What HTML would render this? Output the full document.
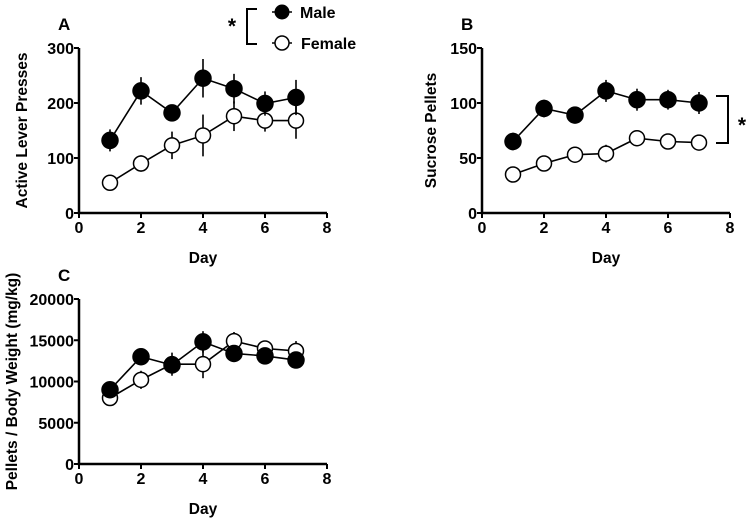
<!DOCTYPE html>
<html><head><meta charset="utf-8"><style>
html,body{margin:0;padding:0;background:#fff}
svg{display:block}
text{font-family:"Liberation Sans",Arial,sans-serif;font-weight:bold;fill:#000}
</style></head><body>
<svg id="chart" width="750" height="518" viewBox="0 0 750 518">
<g>
<text x="232" y="33" font-size="21" text-anchor="middle">*</text>
<path d="M257,9H247V44H257" fill="none" stroke="#000" stroke-width="2"/>
<line x1="272" y1="12" x2="292" y2="12" stroke="#000" stroke-width="1.5"/>
<circle cx="282" cy="12" r="7.5" fill="#000"/>
<text x="300" y="18" font-size="16">Male</text>
<line x1="272" y1="43" x2="292" y2="43" stroke="#000" stroke-width="1.5"/>
<circle cx="282" cy="43" r="7" fill="#fff" stroke="#000" stroke-width="1.5"/>
<text x="301" y="49" font-size="16">Female</text>
</g>
<g>
<path d="M716,96H728V143H716" fill="none" stroke="#000" stroke-width="2"/>
<text x="742" y="132" font-size="21" text-anchor="middle">*</text>
</g>
</svg>
<script>
const days = [1,2,3,4,5,6,7];
const leverMale = [132,222,182,245,226,199,210];
const leverMaleErr = [20,25,10,35,27,22,32];
const leverFemale = [55,90,123,141,176,168,168];
const leverFemaleErr = [5,15,25,38,27,20,33];
const pelletsMale = [65,95,89,111,103,103,100];
const pelletsMaleErr = [8,8,5,10,10,9,10];
const pelletsFemale = [35,45,53,54,68,65,64];
const pelletsFemaleErr = [3,4,4,8,5,4,4];
const ratioMale = [9000,13000,12000,14800,13400,13100,12600];
const ratioMaleErr = [1000,800,900,1300,900,800,900];
const ratioFemale = [8000,10200,12100,12100,14900,14000,13700];
const ratioFemaleErr = [900,1100,1400,1700,1100,900,1200];
const xTicks = [0,2,4,6,8];
const leverTicks = [0,100,200,300];
const pelletTicks = [0,50,100,150];
const ratioTicks = [0,5000,10000,15000,20000];

const svg = document.getElementById('chart');
const NS = 'http://www.w3.org/2000/svg';
function mk(tag, attrs, parent){const e=document.createElementNS(NS,tag);for(const k in attrs)e.setAttribute(k,attrs[k]);parent.appendChild(e);return e;}

function panel(cfg){
  const g = mk('g',{},svg);
  
  
  const xs = v => cfg.x0 + (v-0)/8*(cfg.x1-cfg.x0);
  const ys = v => cfg.y0 - v/cfg.ymax*(cfg.y0-cfg.y1);
  const ax = mk('path',{d:`M${cfg.x0},${cfg.y1}V${cfg.y0}H${cfg.x1}`,fill:'none',stroke:'#000','stroke-width':2.5},g);
  
  
  xTicks.forEach(t=>{
    mk('line',{x1:xs(t),x2:xs(t),y1:cfg.y0,y2:cfg.y0+5,stroke:'#000','stroke-width':2},g);
    const tx = mk('text',{x:xs(t),y:cfg.y0+20,'font-size':16,'text-anchor':'middle'},g);
    tx.textContent = t;
    
    
  });
  cfg.yTicks.forEach(t=>{
    mk('line',{x1:cfg.x0-5,x2:cfg.x0,y1:ys(t),y2:ys(t),stroke:'#000','stroke-width':2},g);
    const tx = mk('text',{x:cfg.x0-5,y:ys(t)+6,'font-size':16,'text-anchor':'end'},g);
    tx.textContent = t;
    
    
  });
  const xt = mk('text',{x:(cfg.x0+cfg.x1)/2,y:cfg.y0+50,'font-size':15.5,'text-anchor':'middle'},g);
  xt.textContent='Day';
  
  
  const yt = mk('text',{x:0,y:0,'font-size':15.5,'text-anchor':'middle',transform:`translate(${cfg.ytx},${(cfg.y0+cfg.y1)/2}) rotate(-90)`},g);
  yt.textContent=cfg.ytitle;
  
  
  const lb = mk('text',{x:cfg.lx,y:cfg.ly,'font-size':17},g);
  lb.textContent=cfg.letter;
  
  
  [[cfg.f,cfg.fe,'#fff','female'],[cfg.m,cfg.me,'#000','male']].forEach(([vals,errs,fill,nm])=>{
    const sg = mk('g',{},g);
    
    
    const pts = days.map((d,i)=>xs(d)+','+ys(vals[i])).join(' ');
    mk('polyline',{points:pts,fill:'none',stroke:'#000','stroke-width':1.6},sg);
    days.forEach((d,i)=>{
      mk('line',{x1:xs(d),x2:xs(d),y1:ys(vals[i]-errs[i]),y2:ys(vals[i]+errs[i]),stroke:'#000','stroke-width':1.6},sg);
    });
    days.forEach((d,i)=>{
      const c = mk('circle',{cx:xs(d),cy:ys(vals[i]),r:fill==='#000'?8:7.5,fill:fill,stroke:'#000','stroke-width':1.5},sg);
      
      
    });
  });
}
panel({name:'panel-a-active-lever-presses',x0:79,x1:327,y0:213,y1:48,ymax:300,yTicks:leverTicks,ytitle:'Active Lever Presses',ytx:27,letter:'A',lx:58,ly:30,m:leverMale,me:leverMaleErr,f:leverFemale,fe:leverFemaleErr});
panel({name:'panel-b-sucrose-pellets',x0:482,x1:730,y0:213,y1:48,ymax:150,yTicks:pelletTicks,ytitle:'Sucrose Pellets',ytx:436,letter:'B',lx:461,ly:30,m:pelletsMale,me:pelletsMaleErr,f:pelletsFemale,fe:pelletsFemaleErr});
panel({name:'panel-c-pellets-per-body-weight',x0:79,x1:327,y0:464,y1:299,ymax:20000,yTicks:ratioTicks,ytitle:'Pellets / Body Weight (mg/kg)',ytx:17,letter:'C',lx:58,ly:281,m:ratioMale,me:ratioMaleErr,f:ratioFemale,fe:ratioFemaleErr});
</script>
</body></html>
